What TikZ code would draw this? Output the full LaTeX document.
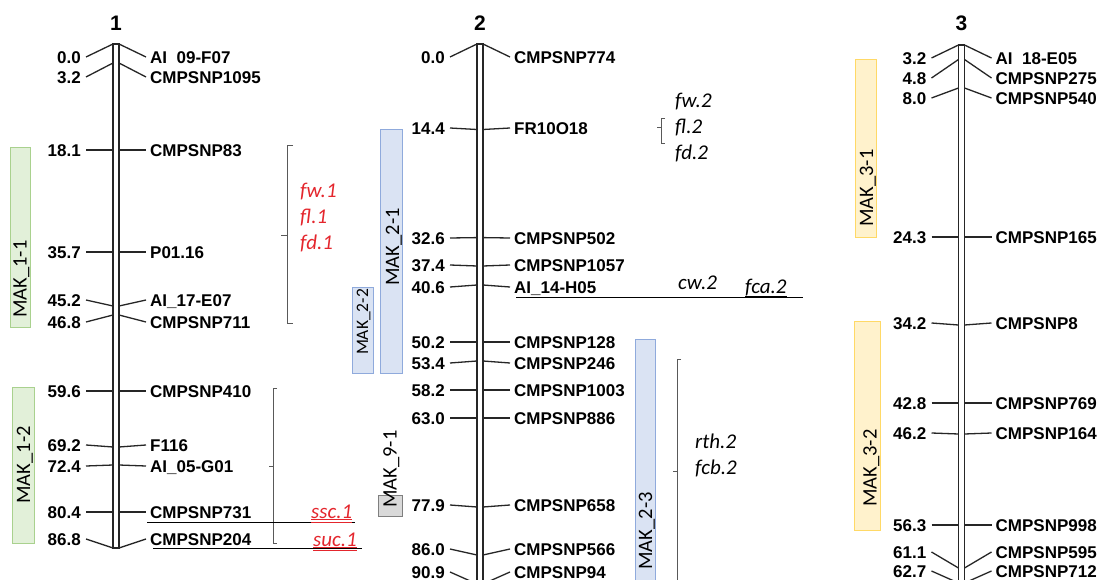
\documentclass[tikz,border=0pt]{standalone}
\usepackage{fontspec}
\newfontfamily\mkfont{Liberation Sans}
\newfontfamily\calfont{Carlito}
\definecolor{grfill}{HTML}{E2F0D9}
\definecolor{grdraw}{HTML}{A9D18E}
\definecolor{blfill}{HTML}{DAE3F3}
\definecolor{bldraw}{HTML}{8FAADC}
\definecolor{yefill}{HTML}{FFF2CC}
\definecolor{yedraw}{HTML}{FFD966}
\definecolor{gyfill}{HTML}{D9D9D9}
\definecolor{gydraw}{HTML}{7F7F7F}
\definecolor{qtlred}{RGB}{228,38,45}
\tikzset{
  chrline/.style={line width=1.4pt, draw=black!85},
  tickline/.style={line width=1.3pt, draw=black!85},
  numlbl/.style={font=\mkfont\bfseries\fontsize{17}{17}\selectfont, inner sep=0pt, text height=12.2pt, text depth=0pt, anchor=east},
  mklbl/.style={font=\mkfont\bfseries\fontsize{17}{17}\selectfont, inner sep=0pt, text height=12.2pt, text depth=0pt, anchor=west},
  titlelbl/.style={font=\mkfont\bfseries\fontsize{21}{21}\selectfont, inner sep=0pt},
  makbox/.style={line width=1pt, inner sep=0pt, outer sep=0pt},
  maktxt/.style={font=\calfont\fontsize{20.5}{20.5}\selectfont, rotate=90, inner sep=0pt, text height=13.2pt, text depth=0pt},
  qtl/.style={font=\calfont\itshape\fontsize{21}{21}\selectfont, inner sep=0pt, anchor=base west},
  brk/.style={line width=0.8pt, draw=black!65},
  hline/.style={line width=1pt, draw=black},
}
\newcommand{\drawchrom}[5]{%
  \draw[chrline] (#2-3,#3) rectangle (#2+3,#4);
  \foreach \ly/\cy/\num/\name [count=\i] in {#5} {
    \node[numlbl] (#1n\i) at (#2-35,\ly) {\num};
    \node[mklbl] (#1m\i) at (#2+34,\ly) {\name};
    \coordinate (#1l\i) at (#2-3,\cy);
    \coordinate (#1r\i) at (#2+3,\cy);
    \draw[tickline] ([xshift=5pt]#1n\i.east) -- (#1l\i);
    \draw[tickline] (#1r\i) -- ([xshift=-4pt]#1m\i.west);
  }
}
\begin{document}
\begin{tikzpicture}[x=1pt,y=-1pt]
\useasboundingbox (0,0) rectangle (1103,580);
\fill[white] (0,0) rectangle (1103,580);
\clip (0,0) rectangle (1103,580);

% titles
\node[titlelbl] (t1) at (116,23) {1};
\node[titlelbl] (t2) at (480,23) {2};
\node[titlelbl] (t3) at (961.5,23) {3};

% chromosome 1
\drawchrom{a}{116}{44}{548}{57/44/0.0/{AI\phantom{\_}09-F07},77/63/3.2/CMPSNP1095,150/150/18.1/CMPSNP83,252/252/35.7/P01.16,300/306/45.2/AI\_17-E07,322/315/46.8/CMPSNP711,391/391/59.6/CMPSNP410,445/447/69.2/F116,466/465/72.4/AI\_05-G01,512/512/80.4/CMPSNP731,539/548/86.8/CMPSNP204}

% chromosome 2
\drawchrom{b}{480}{44}{620}{57/44/0.0/CMPSNP774,128/129.5/14.4/FR10O18,238/237.6/32.6/CMPSNP502,265/266/37.4/CMPSNP1057,287/285/40.6/AI\_14-H05,342/342/50.2/CMPSNP128,363/361/53.4/CMPSNP246,390/390/58.2/CMPSNP1003,418/418/63.0/CMPSNP886,505/507/77.9/CMPSNP658,549/555/86.0/CMPSNP566,572/584/90.9/CMPSNP94}

% chromosome 3
\drawchrom{c}{961.5}{45}{620}{58/45/3.2/{AI\phantom{\_}18-E05},78/59.5/4.8/CMPSNP275,98/88/8.0/CMPSNP540,237/237/24.3/CMPSNP165,323/325/34.2/CMPSNP8,403/403/42.8/CMPSNP769,433/434/46.2/CMPSNP164,525/525/56.3/CMPSNP998,552/568/61.1/CMPSNP595,571/583/62.7/CMPSNP712}

% MAK boxes
\node[makbox, fill=grfill, draw=grdraw, minimum width=20pt, minimum height=179pt] (mak11) at (20,237.5) {};
\node[maktxt, anchor=west] (mak11t) at ([yshift=9pt]mak11.south) {MAK\_1-1};
\node[makbox, fill=grfill, draw=grdraw, minimum width=22pt, minimum height=156pt] (mak12) at (23,465) {};
\node[maktxt] (mak12t) at (23.5,465) {MAK\_1-2};

\node[makbox, fill=blfill, draw=bldraw, minimum width=22pt, minimum height=243pt] (mak21) at (391,251.5) {};
\node[maktxt] (mak21t) at (392.5,247) {MAK\_2-1};
\node[makbox, fill=blfill, draw=bldraw, minimum width=21pt, minimum height=86pt] (mak22) at (362.5,330) {};
\node[maktxt, font=\calfont\fontsize{17.5}{17.5}\selectfont, text height=11.3pt] (mak22t) at (362.5,322) {MAK\_2-2};
\node[makbox, fill=gyfill, draw=gydraw, minimum width=24pt, minimum height=21pt] (mak91) at (390,505.5) {};
\node[maktxt, anchor=west] (mak91t) at (390,508) {MAK\_9-1};
\node[makbox, fill=blfill, draw=bldraw, minimum width=20pt, minimum height=261pt] (mak23) at (645,469.5) {};
\node[maktxt] (mak23t) at (645.5,531) {MAK\_2-3};

\node[makbox, fill=yefill, draw=yedraw, minimum width=21pt, minimum height=178pt] (mak31) at (865.5,149) {};
\node[maktxt, anchor=west] (mak31t) at (866.5,227) {MAK\_3-1};
\node[makbox, fill=yefill, draw=yedraw, minimum width=26pt, minimum height=209pt] (mak32) at (867,425.5) {};
\node[maktxt, anchor=west] (mak32t) at (870,507) {MAK\_3-2};

% brackets
\draw[brk] (293,145) -- (287,145) -- (287,323) -- (293,323);
\draw[brk] (287,235) -- (281,235);
\draw[brk] (277,388) -- (273,388) -- (273,543) -- (277,543);
\draw[brk] (273,466) -- (269,466);
\draw[brk] (665,118) -- (661,118) -- (661,143) -- (665,143);
\draw[brk] (661,127) -- (657,127);
\draw[brk] (681,359) -- (677,359) -- (677,600);
\draw[brk] (677,471) -- (673,471);

% QTL labels
\node[qtl, text=qtlred] (fw1) at (300,198) {fw.1};
\node[qtl, text=qtlred] (fl1) at (300,224) {fl.1};
\node[qtl, text=qtlred] (fd1) at (300,249.5) {fd.1};
\node[qtl] (fw2) at (675,108) {fw.2};
\node[qtl] (fl2) at (675,134) {fl.2};
\node[qtl] (fd2) at (675,160) {fd.2};
\node[qtl] (rth2) at (695,448) {rth.2};
\node[qtl] (fcb2) at (695,474) {fcb.2};
\node[qtl] (cw2) at (678,289) {cw.2};
\node[qtl] (fca2) at (745,293) {fca.2};
\node[qtl, text=qtlred] (ssc1) at (311,518) {ssc.1};
\node[qtl, text=qtlred] (suc1) at (313,546) {suc.1};

% long horizontal lines
\coordinate (cwL) at (516,297);
\coordinate (cwR) at (803,297);
\draw[hline] (cwL) -- (cwR);
\draw[line width=1.4pt] ([yshift=-4pt]fca2.base west) -- ([yshift=-4pt]fca2.base east);
\coordinate (sscL) at (147,522);
\coordinate (sscR) at (355,522);
\draw[hline] (sscL) -- (sscR);
\coordinate (sucL) at (153,548);
\coordinate (sucR) at (362,548);
\draw[hline] (sucL) -- (sucR);
\foreach \q in {ssc1,suc1} {
  \draw[qtlred, line width=0.7pt] ([yshift=-1.8pt]\q.base west) -- ([yshift=-1.8pt]\q.base east);
  \draw[qtlred, line width=0.7pt] ([yshift=-4pt]\q.base west) -- ([yshift=-4pt]\q.base east);
}
\end{tikzpicture}
\end{document}
